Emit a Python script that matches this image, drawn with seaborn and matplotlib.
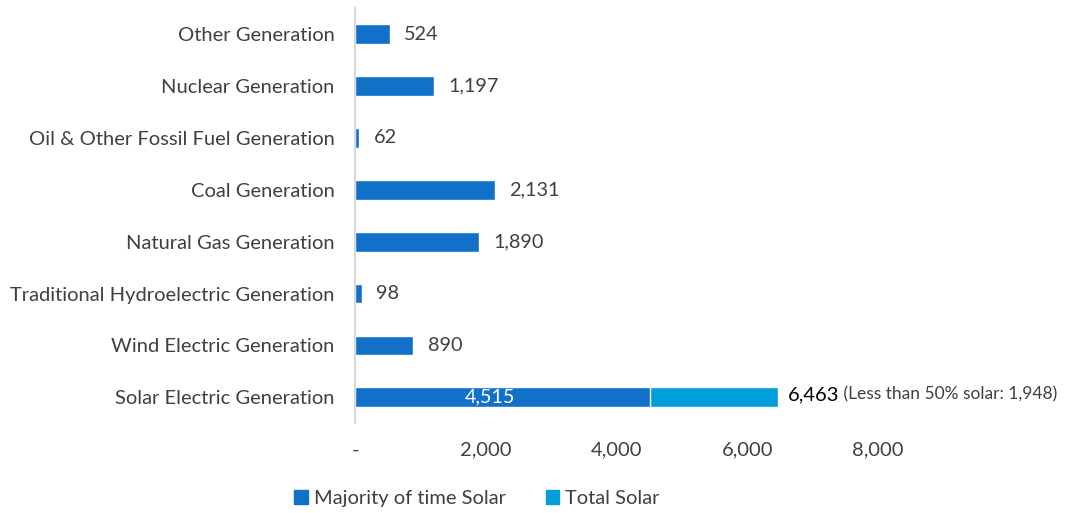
import numpy as np
import pandas as pd
import matplotlib
matplotlib.use('Agg')
import matplotlib.pyplot as plt
import seaborn as sns
from matplotlib.patches import Patch

categories = ['Other Generation', 'Nuclear Generation', 'Oil & Other Fossil Fuel Generation',
              'Coal Generation', 'Natural Gas Generation', 'Traditional Hydroelectric Generation',
              'Wind Electric Generation', 'Solar Electric Generation']
majority = [524, 1197, 62, 2131, 1890, 98, 890, 4515]
total_solar = [np.nan, np.nan, np.nan, np.nan, np.nan, np.nan, np.nan, 6463]
less_than_half = 1948

dark = '#1170C8'
light = '#009FD9'
grey = '#404040'

sns.set_style('white')
plt.rcParams['font.family'] = ['Lato', 'DejaVu Sans']

df = pd.DataFrame({'category': categories, 'majority': majority, 'total': total_solar})

fig = plt.figure(figsize=(10.67, 5.13), dpi=100)
ax = fig.add_axes([0.333, 0.175, 0.49, 0.809])

sns.barplot(data=df, y='category', x='total', color=light, width=0.38, ax=ax,
            saturation=1, order=categories)
sns.barplot(data=df, y='category', x='majority', color=dark, width=0.38, ax=ax,
            saturation=1, order=categories)

# data labels
for i, v in enumerate(majority[:-1]):
    ax.text(v + 220, i, f'{v:,}', va='center', ha='left', fontsize=14.3, color=grey)
n = len(categories) - 1
ax.text(majority[-1] / 2 - 200, n, f'{majority[-1]:,}', va='center', ha='center', fontsize=14.3, color='white')
t = ax.text(total_solar[-1] + 150, n - 0.05, f'{int(total_solar[-1]):,}', va='center', ha='left',
            fontsize=14.5, color='black')
ax.annotate(f' (Less than 50% solar: {less_than_half:,})', xy=(1, 0.5), xycoords=t,
            va='center', ha='left', fontsize=12.5, color=grey)

ax.set_xlim(0, 8000)
ax.set_ylim(len(categories) - 0.5, -0.5)
ax.set_xticks([0, 2000, 4000, 6000, 8000])
ax.set_xticklabels(['-', '2,000', '4,000', '6,000', '8,000'])
ax.tick_params(axis='x', colors=grey, labelsize=14.5, length=0, pad=13)
ax.tick_params(axis='y', colors=grey, labelsize=14.5, length=0, pad=15)
ax.set_xlabel('')
ax.set_ylabel('')
for s in ['top', 'right', 'bottom']:
    ax.spines[s].set_visible(False)
ax.spines['left'].set_color('#d9d9d9')
ax.spines['left'].set_linewidth(1.5)

handles = [Patch(color=dark, label='Majority of time Solar'), Patch(color=light, label='Total Solar')]
fig.legend(handles=handles, loc='center', bbox_to_anchor=(0.447, 0.028), ncol=2, frameon=False,
           fontsize=14.5, handlelength=0.65, handleheight=0.65, handletextpad=0.3, columnspacing=2.0,
           labelcolor=grey)

fig.savefig('out.png', dpi=100)
